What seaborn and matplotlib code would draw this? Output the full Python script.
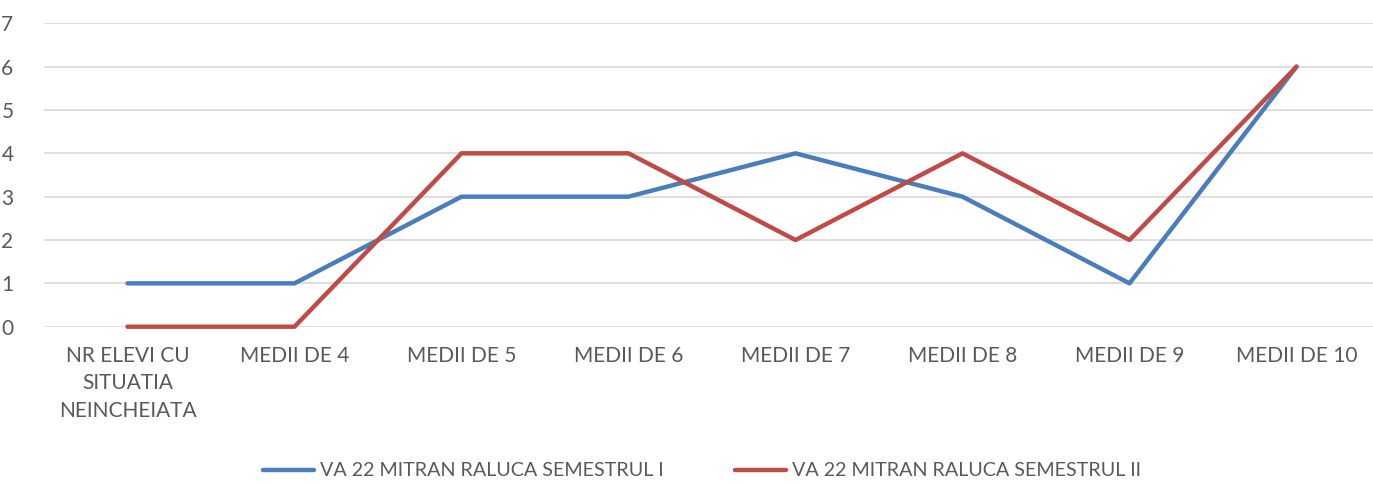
import pandas as pd
import matplotlib.pyplot as plt
import seaborn as sns

# Chart data
categories = ["NR ELEVI CU\nSITUATIA\nNEINCHEIATA", "MEDII DE 4", "MEDII DE 5", "MEDII DE 6",
              "MEDII DE 7", "MEDII DE 8", "MEDII DE 9", "MEDII DE 10"]
sem1 = [1, 1, 3, 3, 4, 3, 1, 6]
sem2 = [0, 0, 4, 4, 2, 4, 2, 6]
series_names = ["VA 22 MITRAN RALUCA SEMESTRUL I", "VA 22 MITRAN RALUCA SEMESTRUL II"]

df = pd.DataFrame({
    "cat": list(range(len(categories))) * 2,
    "value": sem1 + sem2,
    "series": [series_names[0]] * len(sem1) + [series_names[1]] * len(sem2),
})

sns.set_theme(style="white")
plt.rcParams['font.family'] = ['Lato', 'DejaVu Sans']
text_color = "#595959"

fig = plt.figure(figsize=(13.73, 4.84), dpi=100)
ax = fig.add_axes([44 / 1373, 1 - 326.7 / 484, (1373 - 44) / 1373, (326.7 - 23.3) / 484])

sns.lineplot(data=df, x="cat", y="value", hue="series",
             palette=["#4A7EBB", "#BE4B48"], linewidth=3.2, ax=ax,
             legend=True, clip_on=False, solid_capstyle="round")

ax.set_xlim(-0.5, 7.5 - 7 / 167)
ax.set_ylim(0, 7)
ax.set_yticks(range(0, 8))
ax.set_xticks(range(len(categories)))
ax.set_xticklabels(categories, linespacing=1.45)
ax.yaxis.grid(True, color="#D9D9D9", linewidth=1.2)
ax.set_axisbelow(True)
for s in ax.spines.values():
    s.set_visible(False)
ax.tick_params(axis="both", length=0, labelsize=15, colors=text_color)
ax.tick_params(axis="x", pad=14)
ax.tick_params(axis="y", pad=22)
ax.set_xlabel("")
ax.set_ylabel("")

handles, labels = ax.get_legend_handles_labels()
ax.get_legend().remove()
fig.legend(handles, labels, loc="center", bbox_to_anchor=(702 / 1373, 1 - 471 / 484), ncol=2,
           frameon=False, fontsize=14.2, labelcolor=text_color, handlelength=2.6,
           handletextpad=0.3, columnspacing=3.6)

fig.savefig("out.png", dpi=100)
